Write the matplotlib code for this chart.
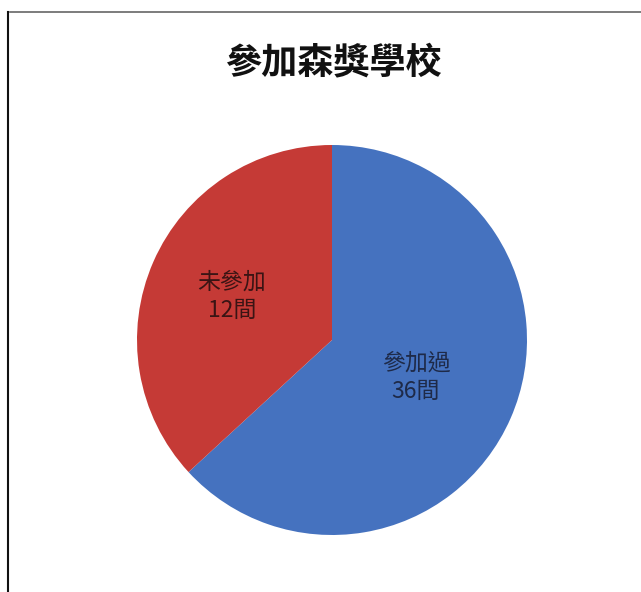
import matplotlib
matplotlib.use("Agg")
import matplotlib.pyplot as plt
from matplotlib.lines import Line2D
import numpy as np

plt.rcParams['font.family'] = ['Noto Sans CJK TC', 'DejaVu Sans']

title = "參加森獎學校"
categories = ["參加過", "未參加"]
count_labels = ["36間", "12間"]
slice_values = [36, 21]
colors = ["#4572BF", "#C53A36"]
text_colors = ["#1E2A48", "#3A1414"]

W, H = 641, 592
fig = plt.figure(figsize=(W / 100, H / 100), dpi=100)
fig.patch.set_facecolor("white")

R = 195
cx, cy = 332, 340
ax = fig.add_axes([(cx - R) / W, (H - cy - R) / H, 2 * R / W, 2 * R / H])
wedges, _ = ax.pie(slice_values, colors=colors, startangle=90, counterclock=False,
                   wedgeprops=dict(linewidth=0))
ax.set_xlim(-1, 1)
ax.set_ylim(-1, 1)
ax.set_aspect("equal")
ax.axis("off")

label_r = [0.47, 0.56]
for w, cat, cl, r, tc in zip(wedges, categories, count_labels, label_r, text_colors):
    ang = np.deg2rad((w.theta1 + w.theta2) / 2)
    ax.text(r * np.cos(ang), r * np.sin(ang), f"{cat}\n{cl}", ha="center", va="center",
            fontsize=16.5, color=tc, linespacing=1.3)

fig.text(333 / W, 1 - 63 / H, title, ha="center", va="center", fontsize=26,
         fontweight="bold", color="#111111")

# frame lines
fig.add_artist(Line2D([10 / W, 1], [1 - 12 / H, 1 - 12 / H], color="#666666", lw=1.2,
                      transform=fig.transFigure))
fig.add_artist(Line2D([8 / W, 8 / W], [0, 1 - 12 / H], color="#111111", lw=1.5,
                      transform=fig.transFigure))

fig.savefig("out.png", dpi=100, facecolor="white")
